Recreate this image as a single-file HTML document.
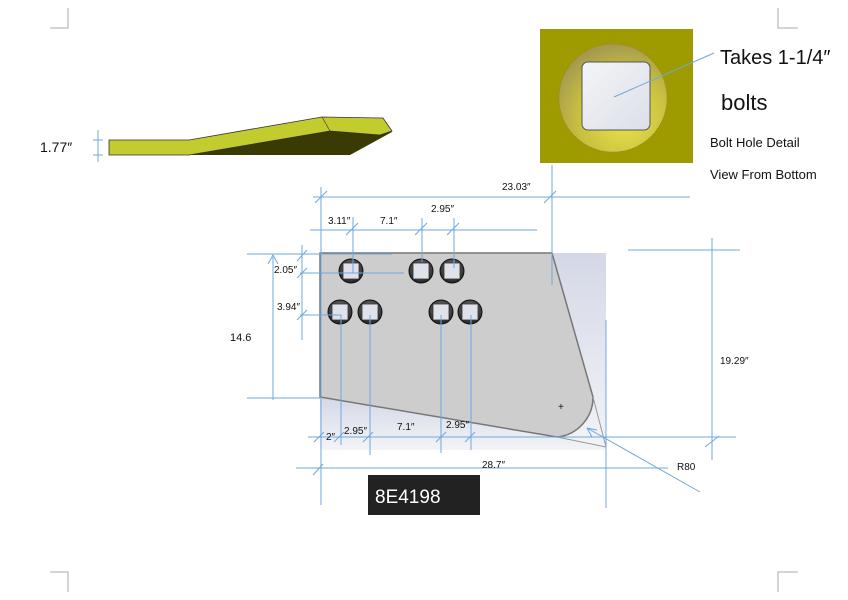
<!DOCTYPE html>
<html><head><meta charset="utf-8"><style>
body{margin:0;background:#fff}
svg{display:block}
text{font-family:"Liberation Sans",sans-serif;fill:#111}
</style></head><body>
<svg width="848" height="600" viewBox="0 0 848 600">
<defs>
<linearGradient id="bg" x1="0" y1="0" x2="0" y2="1"><stop offset="0" stop-color="#d4d8e6"/><stop offset="1" stop-color="#f3f4f8"/></linearGradient>
<radialGradient id="ring" cx="0.6" cy="0.7" r="0.7"><stop offset="0" stop-color="#e8e44a"/><stop offset="0.6" stop-color="#c8c040"/><stop offset="1" stop-color="#a49a50"/></radialGradient>
<linearGradient id="sq" x1="0" y1="0" x2="1" y2="1"><stop offset="0" stop-color="#f4f5f8"/><stop offset="1" stop-color="#dcdfe8"/></linearGradient>
<radialGradient id="hole" cx="0.5" cy="0.4" r="0.6"><stop offset="0" stop-color="#888"/><stop offset="1" stop-color="#222"/></radialGradient>
</defs>
<g stroke="#aaa" stroke-width="1" fill="none">
<path d="M68 8V28H50M778 8V28H798M68 592V572H50M778 592V572H798"/>
</g>
<!-- side view -->
<polygon points="189,155 350,155 392,132 385,128 330,131" fill="#3a3a05"/>
<polygon points="109,140 189,140 322,117 383,118 392,131 380,135 330,131 189,155 109,155" fill="#c3cc2e" stroke="#333" stroke-width="0.8"/>
<polyline points="322,117 330,131" stroke="#333" stroke-width="0.6" fill="none"/>
<g stroke="#6fa8dc" stroke-width="1"><path d="M98 130V162M93 140H103M93 155H103"/></g>
<text x="40" y="152" font-size="14">1.77″</text>
<!-- bolt detail -->
<rect x="540" y="29" width="153" height="134" fill="#9e9b00"/>
<circle cx="613" cy="98" r="54" fill="url(#ring)" stroke="#b07030" stroke-width="0.6" stroke-dasharray="1,1"/>
<rect x="582" y="62" width="68" height="68" rx="6" fill="url(#sq)" stroke="#555" stroke-width="1"/>
<line x1="614" y1="97" x2="714" y2="53" stroke="#6fa8dc"/>
<text x="720" y="64" font-size="20">Takes 1-1/4″</text>
<text x="721" y="110" font-size="22">bolts</text>
<text x="710" y="147" font-size="13">Bolt Hole Detail</text>
<text x="710" y="179" font-size="13">View From Bottom</text>
<!-- plate -->
<rect x="552" y="253" width="54" height="197" fill="url(#bg)"/>
<polygon points="320,397 557,437 606,450 320,450" fill="url(#bg)"/>
<path d="M320 253H552L593 397A40 40 0 0 1 557 437L320 397Z" fill="#cdcdcd" stroke="#777" stroke-width="1.5"/>
<line x1="593" y1="397" x2="606" y2="447" stroke="#999"/><line x1="557" y1="437" x2="606" y2="447" stroke="#999"/>
<text x="558" y="410" font-size="10" fill="#888">+</text>
<g>
<g transform="translate(351,271)"><circle r="12" fill="url(#hole)" stroke="#111"/><rect x="-8" y="-8" width="16" height="16" fill="#dfe2ea" stroke="#333" stroke-width="0.8"/></g>
<g transform="translate(421,271)"><circle r="12" fill="url(#hole)" stroke="#111"/><rect x="-8" y="-8" width="16" height="16" fill="#dfe2ea" stroke="#333" stroke-width="0.8"/></g>
<g transform="translate(452,271)"><circle r="12" fill="url(#hole)" stroke="#111"/><rect x="-8" y="-8" width="16" height="16" fill="#dfe2ea" stroke="#333" stroke-width="0.8"/></g>
<g transform="translate(340,312)"><circle r="12" fill="url(#hole)" stroke="#111"/><rect x="-8" y="-8" width="16" height="16" fill="#dfe2ea" stroke="#333" stroke-width="0.8"/></g>
<g transform="translate(370,312)"><circle r="12" fill="url(#hole)" stroke="#111"/><rect x="-8" y="-8" width="16" height="16" fill="#dfe2ea" stroke="#333" stroke-width="0.8"/></g>
<g transform="translate(441,312)"><circle r="12" fill="url(#hole)" stroke="#111"/><rect x="-8" y="-8" width="16" height="16" fill="#dfe2ea" stroke="#333" stroke-width="0.8"/></g>
<g transform="translate(470,312)"><circle r="12" fill="url(#hole)" stroke="#111"/><rect x="-8" y="-8" width="16" height="16" fill="#dfe2ea" stroke="#333" stroke-width="0.8"/></g>
</g>
<!-- dimension lines -->
<g stroke="#6fa8dc" stroke-width="1" fill="none">
<path d="M313 197H690M321 187V505M552 165V285M315 203L327 191M544 203L556 191"/>
<path d="M310 230H537M353 217V273M422 218V262M454 218V268M346 235L358 223M415 235L427 223M447 235L459 223"/>
<path d="M247 254H392M300 273H404M300 315H341M302 245V340M297 261L307 250M297 278L307 268M297 320L307 310"/>
<path d="M273 400V257M268 264L273 255L278 264M247 398H320"/>
<path d="M341 315V445M370 315V455M441 315V453M471 315V450"/>
<path d="M308 437H736M314 442L324 432M334 442L344 432M363 442L373 432M436 442L446 432M465 442L475 432"/>
<path d="M296 468H668M313 475L323 464M606 320V508"/>
<path d="M712 238V460M628 250H740M705 447L719 436"/>
<path d="M587 428L700 492M587 428L597 430M587 428L592 437"/>
</g>
<g font-size="10">
<text x="502" y="190">23.03″</text>
<text x="328" y="224">3.11″</text>
<text x="380" y="224">7.1″</text>
<text x="431" y="212">2.95″</text>
<text x="274" y="273">2.05″</text>
<text x="277" y="310">3.94″</text>
<text x="326" y="440">2″</text>
<text x="344" y="434">2.95″</text>
<text x="397" y="430">7.1″</text>
<text x="446" y="428">2.95″</text>
<text x="482" y="468">28.7″</text>
<text x="720" y="364">19.29″</text>
<text x="677" y="470">R80</text>
<text x="230" y="341" font-size="11">14.6</text>
</g>
<rect x="368" y="475" width="112" height="40" fill="#222"/>
<text x="375" y="503" font-size="19" style="fill:#fff">8E4198</text>
</svg>
</body></html>
